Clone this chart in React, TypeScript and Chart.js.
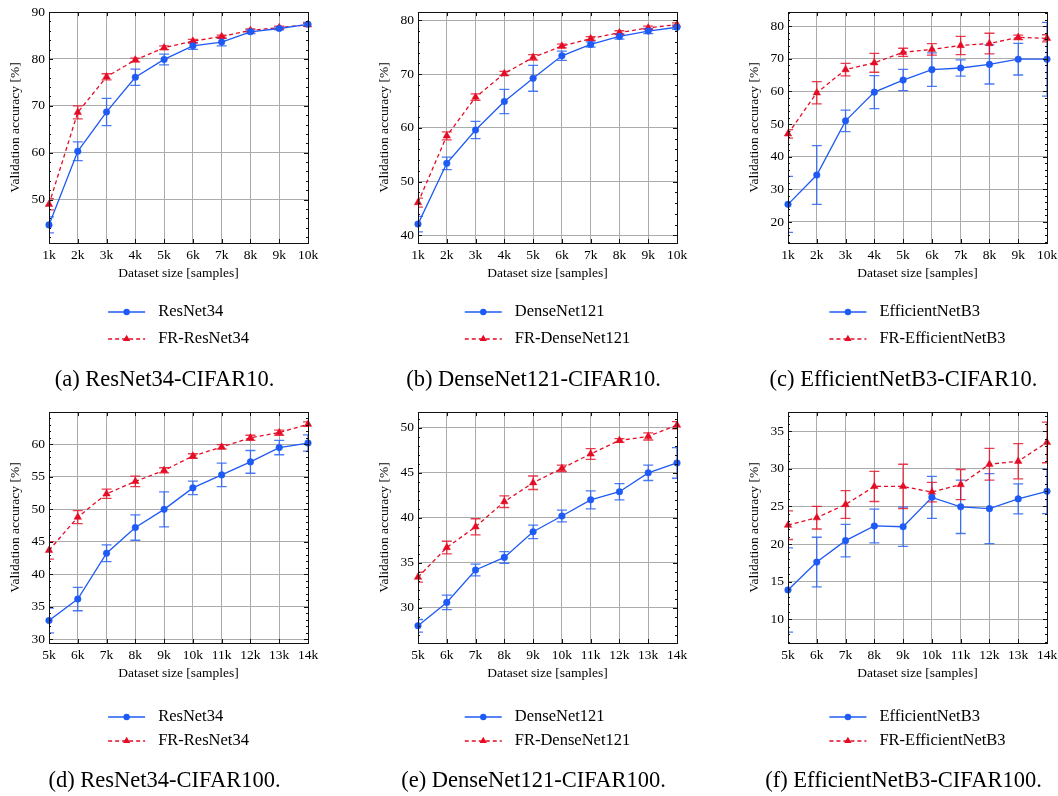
import React, { useEffect, useRef } from 'react';
import { Chart, registerables } from 'chart.js';

Chart.register(...registerables);

const FONT = '"Liberation Serif", "Times New Roman", serif';
const BLUE = 'rgb(30, 90, 245)';
const BLUE_ERR = 'rgba(30, 90, 245, 0.8)';
const RED = 'rgb(228, 12, 36)';
const RED_ERR = 'rgba(228, 12, 36, 0.8)';
const GRID = '#ababab';

// ---------- data ----------
const sizesCifar10 = ['1k', '2k', '3k', '4k', '5k', '6k', '7k', '8k', '9k', '10k'];
const sizesCifar100 = ['5k', '6k', '7k', '8k', '9k', '10k', '11k', '12k', '13k', '14k'];

// (a) ResNet34 - CIFAR10
const resnet34C10 = [44.6, 60.3, 68.7, 76.1, 79.9, 82.8, 83.6, 85.8, 86.5, 87.4];
const resnet34C10Err = [1.7, 2.0, 2.9, 1.75, 1.15, 0.75, 0.8, 0.4, 0.3, 0.4];
const frResnet34C10 = [49.0, 68.6, 76.2, 79.8, 82.4, 83.8, 84.8, 86.1, 86.7, 87.3];
const frResnet34C10Err = [1.2, 1.4, 0.65, 0.4, 0.4, 0.4, 0.3, 0.3, 0.3, 0.3];

// (b) DenseNet121 - CIFAR10
const densenet121C10 = [42.1, 53.4, 59.6, 64.9, 69.2, 73.4, 75.5, 77.0, 78.0, 78.7];
const densenet121C10Err = [1.45, 1.15, 1.6, 2.25, 2.4, 0.85, 0.5, 0.5, 0.5, 0.4];
const frDensenet121C10 = [46.1, 58.5, 65.7, 70.1, 73.1, 75.2, 76.6, 77.7, 78.6, 79.2];
const frDensenet121C10Err = [0.85, 0.75, 0.6, 0.4, 0.5, 0.35, 0.35, 0.35, 0.3, 0.3];

// (c) EfficientNetB3 - CIFAR10
const effnetB3C10 = [25.4, 34.4, 51.0, 59.8, 63.5, 66.7, 67.2, 68.3, 69.9, 69.9];
const effnetB3C10Err = [8.6, 9.0, 3.3, 5.05, 3.25, 5.15, 2.5, 6.0, 4.85, 11.3];
const frEffnetB3C10 = [47.0, 59.6, 66.7, 68.8, 72.0, 72.9, 74.1, 74.7, 76.6, 76.3];
const frEffnetB3C10Err = [1.3, 3.4, 1.9, 2.9, 1.25, 1.75, 2.8, 3.15, 0.7, 1.1];

// (d) ResNet34 - CIFAR100
const resnet34C100 = [32.9, 36.2, 43.25, 47.2, 50.0, 53.3, 55.3, 57.3, 59.5, 60.2];
const resnet34C100Err = [1.9, 1.8, 1.3, 1.95, 2.7, 1.05, 1.8, 1.75, 1.1, 1.25];
const frResnet34C100 = [43.7, 48.8, 52.4, 54.3, 56.0, 58.2, 59.6, 61.0, 61.8, 63.1];
const frResnet34C100Err = [1.35, 1.0, 0.7, 0.8, 0.4, 0.35, 0.35, 0.4, 0.4, 0.35];

// (e) DenseNet121 - CIFAR100
const densenet121C100 = [28.0, 30.6, 34.2, 35.6, 38.45, 40.2, 42.0, 42.9, 45.0, 46.1];
const densenet121C100Err = [0.7, 0.8, 0.65, 0.65, 0.75, 0.65, 1.0, 0.9, 0.85, 1.7];
const frDensenet121C100 = [33.4, 36.7, 39.0, 41.8, 43.9, 45.5, 47.1, 48.6, 49.05, 50.3];
const frDensenet121C100Err = [0.55, 0.7, 0.9, 0.65, 0.75, 0.35, 0.6, 0.2, 0.4, 0.4];

// (f) EfficientNetB3 - CIFAR100
const effnetB3C100 = [13.9, 17.6, 20.45, 22.4, 22.3, 26.2, 24.95, 24.7, 26.0, 27.0];
const effnetB3C100Err = [5.6, 3.3, 2.15, 2.25, 2.6, 2.8, 3.55, 4.65, 2.0, 2.95];
const frEffnetB3C100 = [22.5, 23.5, 25.25, 27.65, 27.65, 26.9, 27.9, 30.6, 31.0, 33.5];
const frEffnetB3C100Err = [1.9, 1.5, 1.85, 2.0, 2.95, 1.3, 2.0, 2.1, 2.35, 2.7];

// y tick labels
const yTicksA = [50, 60, 70, 80, 90];
const yTicksB = [40, 50, 60, 70, 80];
const yTicksC = [20, 30, 40, 50, 60, 70, 80];
const yTicksD = [30, 35, 40, 45, 50, 55, 60];
const yTicksE = [30, 35, 40, 45, 50];
const yTicksF = [10, 15, 20, 25, 30, 35];

const captions = [
  '(a) ResNet34-CIFAR10.',
  '(b) DenseNet121-CIFAR10.',
  '(c) EfficientNetB3-CIFAR10.',
  '(d) ResNet34-CIFAR100.',
  '(e) DenseNet121-CIFAR100.',
  '(f) EfficientNetB3-CIFAR100.',
];

const panels = [
  { col: 0, row: 0, labels: sizesCifar10, base: 'ResNet34', baseVals: resnet34C10, baseErr: resnet34C10Err, fr: 'FR-ResNet34', frVals: frResnet34C10, frErr: frResnet34C10Err, yMin: 40.74, yMax: 90, yTicks: yTicksA, caption: captions[0] },
  { col: 1, row: 0, labels: sizesCifar10, base: 'DenseNet121', baseVals: densenet121C10, baseErr: densenet121C10Err, fr: 'FR-DenseNet121', frVals: frDensenet121C10, frErr: frDensenet121C10Err, yMin: 38.59, yMax: 81.52, yTicks: yTicksB, caption: captions[1] },
  { col: 2, row: 0, labels: sizesCifar10, base: 'EfficientNetB3', baseVals: effnetB3C10, baseErr: effnetB3C10Err, fr: 'FR-EfficientNetB3', frVals: frEffnetB3C10, frErr: frEffnetB3C10Err, yMin: 13.55, yMax: 84.34, yTicks: yTicksC, caption: captions[2] },
  { col: 0, row: 1, labels: sizesCifar100, base: 'ResNet34', baseVals: resnet34C100, baseErr: resnet34C100Err, fr: 'FR-ResNet34', frVals: frResnet34C100, frErr: frResnet34C100Err, yMin: 29.44, yMax: 64.96, yTicks: yTicksD, caption: captions[3] },
  { col: 1, row: 1, labels: sizesCifar100, base: 'DenseNet121', baseVals: densenet121C100, baseErr: densenet121C100Err, fr: 'FR-DenseNet121', frVals: frDensenet121C100, frErr: frDensenet121C100Err, yMin: 26.09, yMax: 51.75, yTicks: yTicksE, caption: captions[4] },
  { col: 2, row: 1, labels: sizesCifar100, base: 'EfficientNetB3', baseVals: effnetB3C100, baseErr: effnetB3C100Err, fr: 'FR-EfficientNetB3', frVals: frEffnetB3C100, frErr: frEffnetB3C100Err, yMin: 6.85, yMax: 37.53, yTicks: yTicksF, caption: captions[5] },
];

// ---------- layout ----------
const COL_LEFT = [0, 369, 739];
const ROW_TOP = [0, 400];
const CW = 330;
const CH = 396;
const LEGEND_Y = [[312, 339], [317, 341]];
const CAPTION_Y = [380, 381];

function drawMarker(ctx: any, style: string, x: number, y: number, r: number, color: string) {
  ctx.save();
  ctx.fillStyle = color;
  ctx.beginPath();
  if (style === 'circle') {
    ctx.arc(x, y, r, 0, Math.PI * 2);
  } else {
    ctx.moveTo(x, y - r);
    ctx.lineTo(x + r * 0.866, y + r * 0.5);
    ctx.lineTo(x - r * 0.866, y + r * 0.5);
    ctx.closePath();
  }
  ctx.fill();
  ctx.restore();
}

function PanelChart({ p }: { p: any }) {
  const ref = useRef<HTMLCanvasElement>(null);
  useEffect(() => {
    const errorBars = {
      id: 'errorBars',
      beforeDatasetsDraw(chart: any) {
        const { ctx, chartArea } = chart;
        const y = chart.scales.y;
        ctx.save();
        ctx.beginPath();
        ctx.rect(chartArea.left, chartArea.top, chartArea.right - chartArea.left, chartArea.bottom - chartArea.top);
        ctx.clip();
        chart.data.datasets.forEach((ds: any, di: number) => {
          const meta = chart.getDatasetMeta(di);
          ctx.strokeStyle = ds.errColor;
          ctx.lineWidth = 1.3;
          ctx.setLineDash([]);
          ds.data.forEach((v: number, i: number) => {
            const e = ds.errors[i];
            const x = meta.data[i].x;
            const y1 = y.getPixelForValue(v - e);
            const y2 = y.getPixelForValue(v + e);
            ctx.beginPath();
            ctx.moveTo(x, y1);
            ctx.lineTo(x, y2);
            ctx.moveTo(x - 5, y1);
            ctx.lineTo(x + 5, y1);
            ctx.moveTo(x - 5, y2);
            ctx.lineTo(x + 5, y2);
            ctx.stroke();
          });
        });
        ctx.restore();
      },
    };

    const frame = {
      id: 'frame',
      afterDraw(chart: any) {
        const { ctx, chartArea } = chart;
        const { left, right, top, bottom } = chartArea;
        const xs = chart.scales.x;
        const ys = chart.scales.y;
        ctx.save();
        ctx.strokeStyle = '#111';
        ctx.lineWidth = 1;
        ctx.setLineDash([]);
        ctx.strokeRect(Math.round(left) + 0.5, Math.round(top) + 0.5, Math.round(right - left), Math.round(bottom - top));
        ctx.beginPath();
        p.labels.forEach((_: string, i: number) => {
          const x = Math.round(xs.getPixelForValue(i)) + 0.5;
          ctx.moveTo(x, bottom);
          ctx.lineTo(x, bottom - 4);
          ctx.moveTo(x, top);
          ctx.lineTo(x, top + 4);
        });
        const step = p.yTicks[1] - p.yTicks[0];
        const minor = step / 5;
        const start = Math.ceil(p.yMin / minor);
        const end = Math.floor(p.yMax / minor);
        for (let k = start; k <= end; k++) {
          const v = k * minor;
          const isMajor = Math.abs(v / step - Math.round(v / step)) < 1e-6;
          const len = isMajor ? 4 : 2;
          const yy = Math.round(ys.getPixelForValue(v)) + 0.5;
          ctx.moveTo(left, yy);
          ctx.lineTo(left + len, yy);
          ctx.moveTo(right, yy);
          ctx.lineTo(right - len, yy);
        }
        ctx.stroke();

        // legend
        const cx = (left + right) / 2;
        ctx.font = `16.5px ${FONT}`;
        const items = [
          { text: p.base, color: BLUE, dash: [], marker: 'circle', r: 3.2 },
          { text: p.fr, color: RED, dash: [4, 3], marker: 'triangle', r: 4.2 },
        ];
        const maxW = Math.max(...items.map((it) => ctx.measureText(it.text).width));
        const total = 50 + maxW;
        const x0 = cx - total / 2;
        items.forEach((it, i) => {
          const yy = LEGEND_Y[p.row][i];
          ctx.strokeStyle = it.color;
          ctx.lineWidth = 1.3;
          ctx.setLineDash(it.dash);
          ctx.beginPath();
          ctx.moveTo(x0, yy);
          ctx.lineTo(x0 + 37, yy);
          ctx.stroke();
          ctx.setLineDash([]);
          drawMarker(ctx, it.marker, x0 + 18.5, yy, it.r, it.color);
          ctx.fillStyle = '#000';
          ctx.textAlign = 'left';
          ctx.textBaseline = 'middle';
          ctx.fillText(it.text, x0 + 50, yy);
        });
        // caption
        ctx.font = `22.5px ${FONT}`;
        ctx.fillStyle = '#000';
        ctx.textAlign = 'center';
        ctx.textBaseline = 'middle';
        ctx.fillText(p.caption, cx - 14, CAPTION_Y[p.row]);
        ctx.restore();
      },
    };

    const chart = new Chart(ref.current as HTMLCanvasElement, {
      type: 'line',
      data: {
        labels: p.labels,
        datasets: [
          {
            label: p.base,
            data: p.baseVals,
            errors: p.baseErr,
            errColor: BLUE_ERR,
            borderColor: BLUE,
            backgroundColor: BLUE,
            borderWidth: 1.3,
            pointStyle: 'circle',
            pointRadius: 3.3,
            pointBorderWidth: 0.5,
            pointBackgroundColor: BLUE,
            pointBorderColor: BLUE,
            tension: 0,
          } as any,
          {
            label: p.fr,
            data: p.frVals,
            errors: p.frErr,
            errColor: RED_ERR,
            borderColor: RED,
            backgroundColor: RED,
            borderWidth: 1.3,
            borderDash: [4, 3],
            pointStyle: 'triangle',
            pointRadius: 4.3,
            pointBorderWidth: 0.5,
            pointBackgroundColor: RED,
            pointBorderColor: RED,
            tension: 0,
          } as any,
        ],
      },
      options: {
        responsive: false,
        animation: false,
        devicePixelRatio: 1,
        events: [],
        layout: { padding: { top: 9, left: 0, right: 22, bottom: 113 } },
        scales: {
          x: {
            type: 'category',
            offset: false,
            grid: { color: GRID, lineWidth: 1, drawTicks: false },
            border: { display: false },
            ticks: { font: { family: FONT, size: 13.5 }, color: '#000', padding: 4, autoSkip: false, maxRotation: 0 },
            title: { display: true, text: 'Dataset size [samples]', color: '#000', font: { family: FONT, size: 13.5 }, padding: { top: 0, bottom: 1 } },
            afterFit: (s: any) => { s.height = 40; },
          },
          y: {
            type: 'linear',
            min: p.yMin,
            max: p.yMax,
            grid: { color: GRID, lineWidth: 1, drawTicks: false },
            border: { display: false },
            ticks: { font: { family: FONT, size: 13.5 }, color: '#000', padding: 4, callback: (v: any) => String(v) },
            afterBuildTicks: (s: any) => { s.ticks = p.yTicks.map((v: number) => ({ value: v })); },
            title: { display: true, text: 'Validation accuracy [%]', color: '#000', font: { family: FONT, size: 13.5 }, padding: { top: 7, bottom: 0 } },
            afterFit: (s: any) => { s.width = 49; },
          },
        },
        plugins: { legend: { display: false }, tooltip: { enabled: false } },
      } as any,
      plugins: [errorBars, frame],
    });
    return () => chart.destroy();
  }, []);
  return (
    <canvas
      ref={ref}
      width={CW}
      height={CH}
      style={{ position: 'absolute', left: COL_LEFT[p.col], top: ROW_TOP[p.row], width: CW, height: CH }}
    />
  );
}

export default function App() {
  return (
    <div style={{ position: 'absolute', left: 0, top: 0, width: 1058, height: 796, overflow: 'hidden', background: '#fff' }}>
      {panels.map((p, i) => (
        <PanelChart key={i} p={p} />
      ))}
    </div>
  );
}
